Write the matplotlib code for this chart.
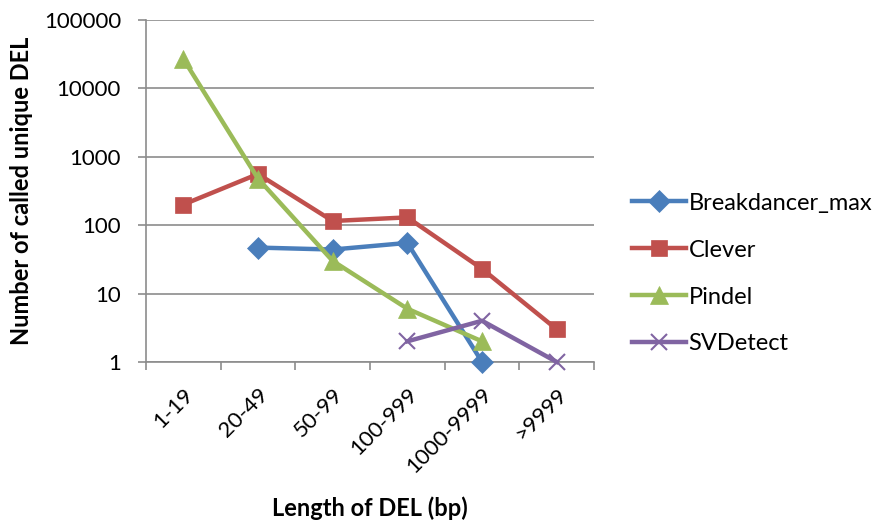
import numpy as np
import matplotlib
matplotlib.use("Agg")
import matplotlib.pyplot as plt

plt.rcParams['font.family'] = ['Lato', 'DejaVu Sans']

# chart data
categories = ['1-19', '20-49', '50-99', '100-999', '1000-9999', '>9999']
breakdancer = [np.nan, 47, 44, 55, 1, np.nan]
clever = [200, 560, 115, 130, 23, 3]
pindel = [27000, 480, 30, 6, 2, np.nan]
svdetect = [np.nan, np.nan, np.nan, 2, 4, 1]

series = [
    ('Breakdancer_max', breakdancer, '#4A7EBB', 'D', 11),
    ('Clever', clever, '#C0504D', 's', 12),
    ('Pindel', pindel, '#9BBB59', '^', 13),
    ('SVDetect', svdetect, '#8064A2', 'x', 12),
]

fig = plt.figure(figsize=(8.82, 5.2), dpi=100)
ax = fig.add_axes([0.1655, 0.304, 0.508, 0.6575])

x = np.arange(len(categories))
for name, vals, col, mk, ms in series:
    ax.plot(x, vals, color=col, lw=3.2, marker=mk, markersize=ms,
            markeredgewidth=1.5 if mk == 'x' else 0.5,
            markeredgecolor=col, markerfacecolor=col, label=name,
            zorder=3, clip_on=False)

ax.set_yscale('log')
ax.set_ylim(1, 100000)
ax.set_xlim(-0.5, len(categories) - 0.5)
ax.set_yticks([1, 10, 100, 1000, 10000, 100000])
ax.set_yticklabels(['1', '10', '100', '1000', '10000', '100000'])
ax.minorticks_off()
ax.yaxis.grid(True, color='#8c8c8c', lw=1.2)
ax.set_axisbelow(True)

ax.set_xticks(x)
ax.set_xticklabels(categories, rotation=45, ha='right', rotation_mode='anchor')
ax.set_xticks(np.arange(-0.5, len(categories)), minor=True)
ax.tick_params(axis='x', which='major', length=0, pad=16, labelsize=16)
ax.tick_params(axis='x', which='minor', length=6, width=1.2, color='#8c8c8c')
ax.tick_params(axis='y', length=6, width=1.2, color='#8c8c8c', labelsize=16, pad=12)

for side in ['top', 'right']:
    ax.spines[side].set_visible(False)
for side in ['left', 'bottom']:
    ax.spines[side].set_color('#8c8c8c')
    ax.spines[side].set_linewidth(1.2)

ax.set_ylabel('Number of called unique DEL', fontsize=17, fontweight='bold', labelpad=8)
ax.set_xlabel('Length of DEL (bp)', fontsize=17, fontweight='bold', labelpad=14)

fig.legend(*ax.get_legend_handles_labels(), loc='center left',
           bbox_to_anchor=(0.7166, 0.474), frameon=False, borderaxespad=0,
           borderpad=0, fontsize=17, handlelength=2.3, handletextpad=0.1,
           labelspacing=1.1)

fig.savefig('out.png', dpi=100)
